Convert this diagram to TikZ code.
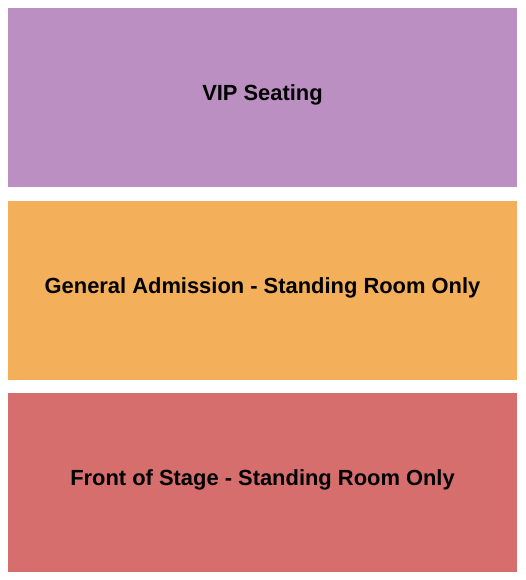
\documentclass[tikz,border=0pt]{standalone}
\usepackage{fontspec}
\setmainfont{Liberation Sans}
\definecolor{vip_purple}{RGB}{188,143,194}
\definecolor{ga_orange}{RGB}{244,175,90}
\definecolor{front_red}{RGB}{214,110,110}

\begin{document}
\begin{tikzpicture}[x=1pt,y=-1pt]
    \tikzstyle{label}=[font=\fontsize{21.9}{26}\selectfont\bfseries, text=black, inner sep=0pt]

    \useasboundingbox (0,0) rectangle (525,580);

    \fill[vip_purple] (8,8)   rectangle (517,187);
    \fill[ga_orange]  (8,201) rectangle (517,380);
    \fill[front_red]  (8,393) rectangle (517,572);

    \node[label] (vip)   at (262.5,95)  {VIP Seating};
    \node[label] (ga)    at (262.5,288) {General Admission - Standing Room Only};
    \node[label] (front) at (262.5,480) {Front of Stage - Standing Room Only};
\end{tikzpicture}
\end{document}
